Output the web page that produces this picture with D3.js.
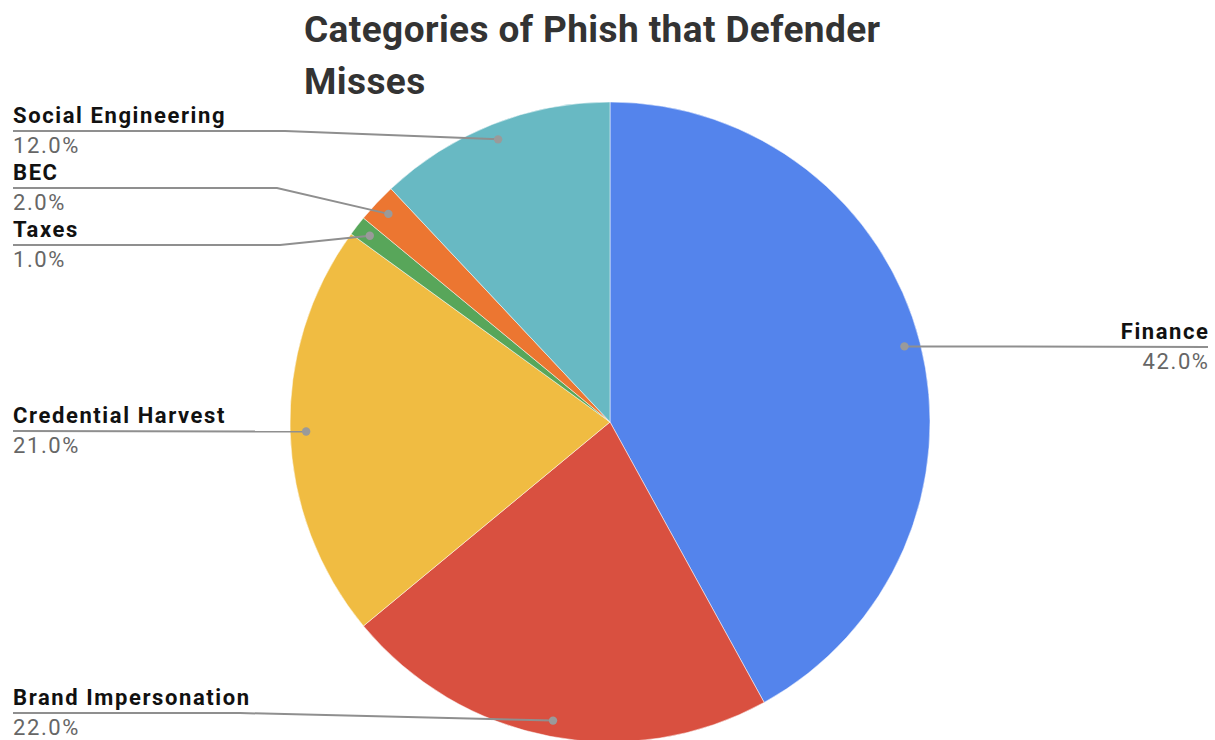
<!DOCTYPE html>
<html>
<head>
<meta charset="utf-8">
<script src="https://cdn.jsdelivr.net/npm/d3@7"></script>
<style>
  html, body { margin: 0; padding: 0; background: #fff; }
  svg { display: block; }
</style>
</head>
<body>
<svg id="chart" width="1215" height="740"></svg>
<script>
const categories = ["Finance", "Brand Impersonation", "Credential Harvest", "Taxes", "BEC", "Social Engineering"];
const values = [42, 22, 21, 1, 2, 12];
const colors = ["#5484EC", "#D95040", "#F0BC42", "#58A65A", "#EC7631", "#68B9C3"];
const titleLines = ["Categories of Phish that Defender", "Misses"];

// label layout (positions, not data)
const labelLayout = {
  "Finance":             { side: "right", y: 347, elbowX: null },
  "Brand Impersonation": { side: "left",  y: 713, elbowX: 240 },
  "Credential Harvest":  { side: "left",  y: 431, elbowX: null },
  "Taxes":               { side: "left",  y: 245, elbowX: 280 },
  "BEC":                 { side: "left",  y: 188, elbowX: 277 },
  "Social Engineering":  { side: "left",  y: 131, elbowX: 285 }
};

const svg = d3.select("#chart");
const cx = 610, cy = 422, R = 320;

const data = categories.map((c, i) => ({ name: c, value: values[i], color: colors[i] }));
const total = d3.sum(values);

const pie = d3.pie().value(d => d.value).sort(null);
const arc = d3.arc().innerRadius(0).outerRadius(R);
const dotArc = d3.arc().innerRadius(R * 0.95).outerRadius(R * 0.95);
const arcs = pie(data);

const g = svg.append("g").attr("transform", `translate(${cx},${cy})`);
g.selectAll("path.slice").data(arcs).enter().append("path")
  .attr("class", "slice")
  .attr("d", arc)
  .attr("fill", d => d.data.color)
  .attr("stroke", "#fff")
  .attr("stroke-width", 0.5);

// leader lines and labels
const pct = d3.format(".1%");
const leftX = 13, rightX = 1208;
const ls = 1.6;
arcs.forEach(a => {
  const L = labelLayout[a.data.name];
  const [dx, dy] = dotArc.centroid(a);
  const px = cx + dx, py = cy + dy;
  const startX = L.side === "left" ? leftX : rightX;
  const pts = [[startX, L.y]];
  if (L.elbowX !== null) pts.push([L.elbowX, L.y]);
  pts.push([px, py]);
  svg.append("path")
    .attr("d", d3.line()(pts))
    .attr("fill", "none")
    .attr("stroke", "#8f8f8f")
    .attr("stroke-width", 2);
  svg.append("circle").attr("cx", px).attr("cy", py).attr("r", 4.2).attr("fill", "#9a9a9a");

  const anchor = L.side === "left" ? "start" : "end";
  const tx = L.side === "left" ? startX : startX + ls;
  svg.append("text")
    .attr("x", tx).attr("y", L.y - 8)
    .attr("text-anchor", anchor)
    .attr("font-family", "Roboto, 'Noto Sans', sans-serif")
    .attr("font-weight", 700)
    .attr("font-size", 22)
    .attr("letter-spacing", ls)
    .attr("fill", "#111")
    .text(a.data.name);
  svg.append("text")
    .attr("x", tx).attr("y", L.y + 22)
    .attr("text-anchor", anchor)
    .attr("font-family", "Roboto, 'Noto Sans', sans-serif")
    .attr("font-weight", 400)
    .attr("font-size", 22)
    .attr("letter-spacing", ls)
    .attr("fill", "#666")
    .text(pct(a.data.value / total));
});

// title
svg.selectAll("text.title").data(titleLines).enter().append("text")
  .attr("class", "title")
  .attr("x", 304)
  .attr("y", (d, i) => 42 + i * 52)
  .attr("font-family", "Roboto, 'Noto Sans', sans-serif")
  .attr("font-weight", 700)
  .attr("font-size", 37)
  .attr("letter-spacing", 0.4)
  .attr("fill", "#333")
  .text(d => d);
</script>
</body>
</html>
